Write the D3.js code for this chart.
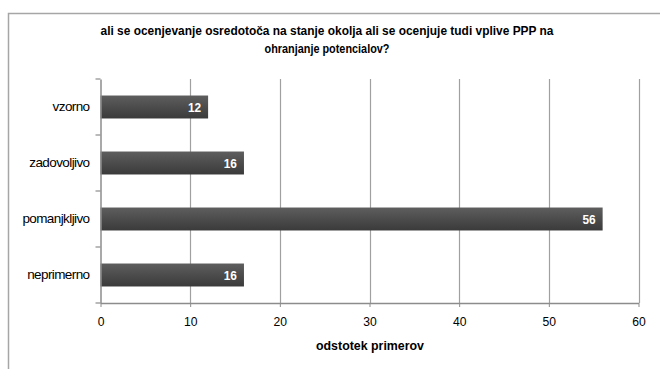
<!DOCTYPE html>
<html><head><meta charset="utf-8">
<script src="https://cdn.jsdelivr.net/npm/d3@7"></script>
<style>
body{margin:0;background:#fff;}
svg{display:block;}
text{font-family:"Liberation Sans Narrow","Arial Narrow","Liberation Sans",Arial,sans-serif;}
</style></head><body>
<script>
const categories = ["vzorno","zadovoljivo","pomanjkljivo","neprimerno"];
const values = [12,16,56,16];
const xTicks = [0,10,20,30,40,50,60];
const titleLines = ["ali se ocenjevanje osredotoča na stanje okolja ali se ocenjuje tudi vplive PPP na","ohranjanje potencialov?"];
const xTitle = "odstotek primerov";

(function(){
const W=660,H=369;
const svg=d3.select("body").append("svg").attr("width",W).attr("height",H);
const defs=svg.append("defs");
const g=defs.append("linearGradient").attr("id","barg").attr("x1",0).attr("y1",0).attr("x2",0).attr("y2",1);
g.append("stop").attr("offset","0").attr("stop-color","#5e5e5e");
g.append("stop").attr("offset","1").attr("stop-color","#3a3a3a");

// frame
svg.append("path").attr("d","M8.5,369 V13.5 H660").attr("fill","none").attr("stroke","#a6a6a6").attr("stroke-width",1.5);

const pL=100.5,pR=638.5,pT=79,pB=303;
const x=d3.scaleLinear().domain([0,60]).range([pL,pR]);
const y=d3.scaleBand().domain(categories).range([pT,pB]).paddingInner(0.59).paddingOuter(0.295);

// gridlines
svg.append("g").selectAll("line").data(xTicks.filter(d=>d>0)).join("line")
 .attr("x1",d=>Math.round(x(d))+0.5).attr("x2",d=>Math.round(x(d))+0.5)
 .attr("y1",pT).attr("y2",pB).attr("stroke","#a0a0a0").attr("stroke-width",1.2);

// bars
svg.append("g").selectAll("rect").data(categories).join("rect")
 .attr("x",x(0)).attr("y",d=>y(d)).attr("width",(d,i)=>x(values[i])-x(0)).attr("height",y.bandwidth())
 .attr("fill","url(#barg)");

// value labels
svg.append("g").selectAll("text").data(categories).join("text")
 .attr("x",(d,i)=>x(values[i])-7).attr("y",d=>y(d)+y.bandwidth()/2+5)
 .attr("text-anchor","end").attr("fill","#fff").attr("font-weight","bold").attr("font-size",13.5)
 .attr("transform",(d,i)=>{const cx=x(values[i])-7;return `translate(${cx},0) scale(0.88,1) translate(${-cx},0)`;})
 .text((d,i)=>values[i]);

// x axis
const xa=svg.append("g").attr("transform",`translate(0,${pB})`)
 .call(d3.axisBottom(x).tickValues(xTicks).tickSize(4).tickSizeOuter(0).tickPadding(9));
xa.select(".domain").attr("stroke","#8c8c8c").attr("stroke-width",1.5);
xa.selectAll(".tick line").attr("stroke","#8c8c8c");
xa.selectAll("text").attr("font-size",13.5).attr("fill","#000").attr("font-family",null)
 .attr("transform","scale(0.9,1)");

// y axis
const ya=svg.append("g").attr("transform",`translate(${pL},0)`)
 .call(d3.axisLeft(y).tickSize(0).tickPadding(11));
ya.select(".domain").attr("stroke","#8c8c8c").attr("stroke-width",1.5);
ya.selectAll("text").attr("font-size",13.5).attr("fill","#000").attr("font-family",null).attr("letter-spacing","-0.6");
// separator ticks
const seps=d3.range(categories.length+1).map(i=>pT+i*y.step());
svg.append("g").selectAll("line").data(seps).join("line")
 .attr("x1",pL-5).attr("x2",pL).attr("y1",d=>d).attr("y2",d=>d).attr("stroke","#8c8c8c").attr("stroke-width",1.2);

// title
const tl=[453,125];
svg.append("g").selectAll("text").data(titleLines).join("text")
 .attr("x",(d,i)=>327-tl[i]/2).attr("y",(d,i)=>35+i*18)
 .attr("textLength",(d,i)=>tl[i]).attr("lengthAdjust","spacingAndGlyphs")
 .attr("font-weight","bold").attr("font-size",13.5).text(d=>d);

svg.append("text").attr("x",316).attr("y",350).attr("textLength",108).attr("lengthAdjust","spacingAndGlyphs")
 .attr("font-weight","bold").attr("font-size",13.5).text(xTitle);
})();
</script>
</body></html>
